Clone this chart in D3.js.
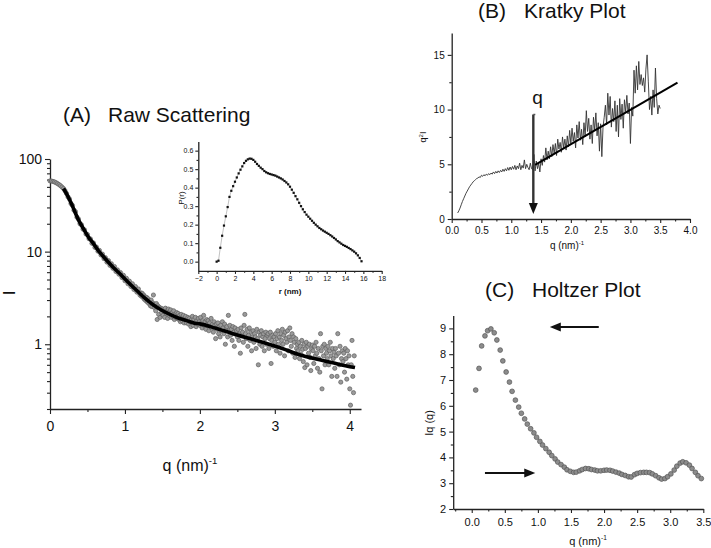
<!DOCTYPE html>
<html><head><meta charset="utf-8">
<script src="https://cdn.jsdelivr.net/npm/d3@7"></script>
<style>
body{margin:0;background:#fff;}
svg text{font-family:"Liberation Sans",Arial,Helvetica,sans-serif;fill:#111;}
</style></head><body>
<svg id="c" width="711" height="548"></svg>
<script>
// ---------- Panel A: raw scattering ----------
const scatterQ = [0.00,0.02,0.04,0.06,0.08,0.10,0.12,0.14,0.16,0.18,0.20,0.22,0.24,0.26,0.28,0.30,0.32,0.34,0.36,0.38,0.40,0.42,0.44,0.46,0.48,0.50,0.52,0.54,0.56,0.58,0.60,0.62,0.64,0.66,0.68,0.70,0.72,0.74,0.76,0.78,0.80,0.82,0.84,0.86,0.88,0.90,0.92,0.94,0.96,0.98,1.00,1.02,1.04,1.06,1.08,1.10,1.12,1.14,1.16,1.18,1.20,
1.21,1.22,1.23,1.24,1.25,1.26,1.27,1.28,1.29,1.30,1.31,1.32,1.33,1.34,1.35,1.36,1.37,1.38,1.39,1.40,1.41,1.42,1.43,1.44,1.45,1.46,1.47,1.48,1.49,1.50,1.51,1.52,1.53,1.54,1.55,1.56,1.57,1.58,1.59,1.60,1.61,1.62,1.63,1.64,1.65,1.66,1.67,1.68,1.69,1.70,1.71,1.72,1.73,1.74,1.75,1.76,1.77,1.78,1.79,1.80,1.81,1.82,1.83,1.84,1.85,1.86,1.87,1.88,1.89,1.90,1.91,1.92,1.93,1.94,1.95,1.96,1.97,1.98,1.99,2.00,
2.01,2.02,2.03,2.04,2.05,2.06,2.07,2.08,2.09,2.10,2.11,2.12,2.13,2.14,2.15,2.16,2.17,2.18,2.19,2.20,2.21,2.22,2.23,2.24,2.25,2.26,2.27,2.28,2.29,2.30,2.31,2.32,2.33,2.34,2.35,2.36,2.37,2.38,2.39,2.40,2.41,2.42,2.43,2.44,2.45,2.46,2.47,2.48,2.49,2.50,2.51,2.52,2.53,2.54,2.55,2.56,2.57,2.58,2.59,2.60,2.61,2.62,2.63,2.64,2.65,2.66,2.67,2.68,2.69,2.70,2.71,2.72,2.73,2.74,2.75,2.76,2.77,2.78,2.79,2.80,2.81,2.82,2.83,2.84,2.85,2.86,2.87,2.88,2.89,2.90,2.91,2.92,2.93,2.94,2.95,2.96,2.97,2.98,2.99,3.00,
3.01,3.02,3.03,3.04,3.05,3.06,3.07,3.08,3.09,3.10,3.11,3.12,3.13,3.14,3.15,3.16,3.17,3.18,3.19,3.20,3.21,3.22,3.23,3.24,3.25,3.26,3.27,3.28,3.29,3.30,3.31,3.32,3.33,3.34,3.35,3.36,3.37,3.38,3.39,3.40,3.41,3.42,3.43,3.44,3.45,3.46,3.47,3.48,3.49,3.50,3.51,3.52,3.53,3.54,3.55,3.56,3.57,3.58,3.59,3.60,3.61,3.62,3.63,3.64,3.65,3.66,3.67,3.68,3.69,3.70,3.71,3.72,3.73,3.74,3.75,3.76,3.77,3.78,3.79,3.80,3.81,3.82,3.83,3.84,3.85,3.86,3.87,3.88,3.89,3.90,3.91,3.92,3.93,3.94,3.95,3.96,3.97,3.98,3.99,4.00,4.01,4.02,4.03,4.04,4.05,4.06];
const scatterI = [58,57.8,57.2,56.5,55.5,54.3,53,51.5,49.8,48,45.5,42.5,39,37,33,31.5,28,27,23.5,22.5,20,19.5,17.5,17.2,15.5,15.3,13.8,13.7,12.3,12.4,11.1,11.2,10.1,10.3,9.2,9.4,8.4,8.6,7.7,8.0,7.1,7.4,6.6,6.9,6.1,6.35,5.7,5.95,5.25,5.55,4.85,5.15,4.5,4.8,4.2,4.5,3.9,4.2,3.65,3.95,3.4,
3.6,3.3,3.55,3.2,3.4,3.05,3.25,2.95,3.2,2.85,
3.1,2.75,2.95,2.6,3.0,2.55,2.8,3.4,2.5,2.7,
2.3,2.75,1.85,2.6,2.1,2.5,1.95,2.45,2.2,2.4,
2.05,2.35,1.95,2.45,2.15,2.3,1.9,2.4,2.05,2.25,
2.35,1.95,2.2,2.0,2.3,1.85,2.1,1.95,2.2,1.9,
2.15,1.85,2.05,1.75,2.1,1.8,1.95,2.05,1.7,1.9,
2.0,1.7,1.85,1.95,1.65,1.9,1.75,1.55,1.85,2.0,
1.6,1.85,1.7,1.95,1.55,1.8,1.65,1.9,1.75,1.6,
1.95,1.7,1.5,1.8,2.05,1.6,1.75,1.45,1.85,1.65,
1.8,1.4,1.7,1.55,1.9,1.5,1.65,1.35,1.75,1.6,
1.15,1.65,1.45,1.7,1.3,1.55,1.2,1.6,1.4,1.75,
1.5,1.3,1.65,1.0,1.45,1.55,1.2,2.05,1.4,1.6,
1.25,1.45,1.1,1.55,1.35,0.95,1.5,1.3,1.4,1.2,
1.45,1.1,1.3,0.8,1.5,1.25,1.35,1.05,1.6,2.1,
1.3,1.15,1.45,0.95,1.25,1.5,1.1,1.35,0.85,1.2,
1.4,1.05,1.3,1.2,0.9,1.45,1.15,0.6,1.35,1.0,
1.25,1.4,0.95,1.2,1.3,0.85,1.15,1.35,1.0,1.25,
1.3,0.9,1.15,1.35,0.62,1.1,1.25,0.95,1.2,1.05,
1.3,0.85,1.15,1.4,1.0,1.2,0.8,1.3,1.1,1.45,
1.0,1.25,0.75,1.35,1.15,1.05,1.4,0.85,1.2,1.5,
1.1,0.95,1.3,0.8,1.2,1.05,0.72,1.15,0.9,1.0,
0.85,1.05,0.7,0.95,0.78,1.1,0.88,0.65,1.0,0.56,
0.9,1.05,0.6,0.95,0.8,1.0,0.72,0.52,0.88,0.98,
0.85,0.62,0.95,0.75,1.05,0.8,0.55,0.9,0.7,0.5,
1.3,0.85,0.33,0.95,0.75,1.0,0.6,0.9,0.8,0.7,
0.95,0.6,0.85,1.05,0.75,0.45,0.9,0.7,0.82,0.55,
0.9,0.75,0.45,1.3,0.8,0.6,0.95,0.39,0.7,0.85,
0.65,0.8,0.5,0.9,0.7,0.42,0.85,0.6,0.75,0.33,
0.22,0.6,1.1,0.45,0.3,0.75];
const fitQ = [0.18,0.25,0.30,0.38,0.45,0.51,0.58,0.64,0.72,0.82,0.92,1.04,1.15,1.27,1.38,1.49,1.60,1.71,1.82,1.93,2.00,2.20,2.44,2.70,2.89,3.10,3.33,3.60,3.85,4.07];
const fitI = [48,38,31,22,17.5,14.5,12.2,10.4,8.7,7.1,5.9,4.7,3.85,3.12,2.65,2.33,2.10,1.92,1.80,1.69,1.66,1.50,1.30,1.13,1.02,0.90,0.77,0.68,0.61,0.56];
const aXTicks = [0,1,2,3,4];
const aXMinor = [0.5,1.5,2.5,3.5];
const aYTicks = [1,10,100];
const aYMinor = [0.2,0.3,0.4,0.5,0.6,0.7,0.8,0.9,2,3,4,5,6,7,8,9,20,30,40,50,60,70,80,90];

// ---------- Inset: P(r) ----------
const prR = [0,0.2,0.4,0.6,0.8,1.0,1.2,1.4,1.6,1.8,2.0,2.2,2.4,2.6,2.8,3.0,3.2,3.4,3.6,3.8,4.0,4.2,4.4,4.6,4.8,5.0,5.2,5.4,5.6,5.8,6.0,6.2,6.4,6.6,6.8,7.0,7.2,7.4,7.6,7.8,8.0,8.2,8.4,8.6,8.8,9.0,9.2,9.4,9.6,9.8,10.0,10.2,10.4,10.6,10.8,11.0,11.2,11.4,11.6,11.8,12.0,12.2,12.4,12.6,12.8,13.0,13.2,13.4,13.6,13.8,14.0,14.2,14.4,14.6,14.8,15.0,15.2,15.4,15.6,15.8];
const prP = [0.00,0.005,0.075,0.14,0.195,0.245,0.295,0.35,0.383,0.408,0.432,0.455,0.477,0.497,0.515,0.533,0.545,0.553,0.557,0.556,0.550,0.540,0.528,0.518,0.508,0.500,0.490,0.483,0.478,0.474,0.471,0.468,0.465,0.460,0.455,0.450,0.444,0.436,0.428,0.418,0.405,0.389,0.372,0.354,0.337,0.318,0.300,0.283,0.268,0.254,0.243,0.232,0.221,0.210,0.200,0.191,0.182,0.175,0.168,0.162,0.156,0.150,0.143,0.136,0.128,0.120,0.111,0.104,0.097,0.090,0.085,0.080,0.074,0.068,0.061,0.054,0.045,0.034,0.020,0.002];
const prXTicks = [-2,0,2,4,6,8,10,12,14,16,18];
const prXMinor = [-1,1,3,5,7,9,11,13,15,17];
const prYTicks = [0,0.1,0.2,0.3,0.4,0.5,0.6];
const prYMinor = [0.05,0.15,0.25,0.35,0.45,0.55];

// ---------- Panel B: Kratky ----------
const kratkyQ = [0.10,0.12,0.14,0.16,0.18,0.20,0.22,0.24,0.26,0.28,0.30,0.32,0.34,0.36,0.38,0.40,0.42,0.44,0.46,0.48,0.50,0.52,0.54,0.56,0.58,0.60,0.62,0.64,0.66,0.68,0.70,0.72,0.74,0.76,0.78,0.80,0.82,0.84,0.86,0.88,0.90,0.92,0.94,0.96,0.98,1.00,1.02,1.04,1.06,1.08,1.10,1.12,1.14,1.16,1.18,1.20,1.22,1.24,1.26,1.28,1.30,1.32,1.34,1.36,1.38,1.40,1.42,1.44,1.46,1.48,1.50,1.52,1.54,1.56,1.58,1.60,1.62,1.64,1.66,1.68,1.70,1.72,1.74,1.76,1.78,1.80,1.82,1.84,1.86,1.88,1.90,1.92,1.94,1.96,1.98,2.00,2.02,2.04,2.06,2.08,2.10,2.12,2.14,2.16,2.18,2.20,2.22,2.24,2.26,2.28,2.30,2.32,2.34,2.36,2.38,2.40,2.42,2.44,2.46,2.48,2.50,2.52,2.54,2.56,2.58,2.60,2.62,2.64,2.66,2.68,2.70,2.72,2.74,2.76,2.78,2.80,2.82,2.84,2.86,2.88,2.90,2.92,2.94,2.96,2.98,3.00,3.02,3.04,3.06,3.08,3.10,3.12,3.14,3.16,3.18,3.20,3.22,3.24,3.26,3.28,3.30,3.32,3.34,3.36,3.38,3.40,3.42,3.44,3.46,3.48,3.50];
const kratkyI = [0.55,0.75,1.0,1.3,1.6,1.85,2.1,2.35,2.55,2.75,2.95,3.1,3.25,3.4,3.5,3.6,3.7,3.75,3.85,3.8,
4.0,3.9,4.05,3.95,4.1,4.0,4.15,4.05,4.2,4.1,4.3,4.15,4.35,4.2,4.4,4.25,4.45,4.3,4.55,4.35,
4.6,4.4,4.7,4.45,4.75,4.5,4.8,4.55,4.9,4.5,4.85,4.6,5.1,4.5,4.9,4.65,5.4,4.6,5.0,4.7,
4.5,5.1,4.6,4.5,5.9,4.4,5.3,4.6,5.1,4.3,5.5,4.9,5.8,5.2,6.5,5.4,6.2,5.5,6.6,5.7,
6.8,6.0,6.9,5.8,7.3,6.4,7.0,6.1,7.5,6.5,7.3,6.3,7.6,6.6,8.1,6.9,8.3,7.1,7.9,6.5,
8.6,7.4,8.9,7.2,8.2,6.8,8.8,7.5,9.9,8.0,9.2,7.3,8.6,6.9,9.3,8.1,9.7,7.6,8.8,6.2,
8.7,5.7,8.4,9.3,10.4,8.6,11.5,9.5,11.2,8.4,10.1,8.9,10.8,8.0,10.4,7.5,11.0,9.1,10.5,8.3,
10.9,9.8,11.3,9.6,10.6,6.9,10.2,9.4,13.6,11.5,14.0,11.8,14.4,12.3,13.2,12.2,12.9,11.6,13.7,15.0,
12.6,10.0,11.2,9.5,11.8,10.2,13.8,11.0,9.6,10.4,10.1];
const kratkyFitQ = [1.40,3.79];
const kratkyFitI = [4.94,12.46];
const bXTicks = [0,0.5,1.0,1.5,2.0,2.5,3.0,3.5,4.0];
const bXMinor = [0.25,0.75,1.25,1.75,2.25,2.75,3.25,3.75];
const bYTicks = [0,5,10,15];
const bYMinor = [2.5,7.5,12.5];

// ---------- Panel C: Holtzer ----------
const holtzerQ = [0.06,0.11,0.15,0.20,0.24,0.29,0.34,0.38,0.43,0.47,0.52,0.57,0.61,0.66,0.71,0.75,0.80,0.84,0.89,0.94,0.98,1.03,1.07,1.12,1.17,1.21,1.26,1.30,1.35,1.40,1.44,1.49,1.54,1.58,1.63,1.67,1.72,1.77,1.81,1.86,1.90,1.95,2.00,2.04,2.09,2.13,2.18,2.23,2.27,2.32,2.37,2.41,2.46,2.50,2.55,2.60,2.64,2.69,2.73,2.78,2.83,2.87,2.92,2.96,3.01,3.06,3.10,3.15,3.19,3.24,3.29,3.33,3.38,3.42,3.47];
const holtzerI = [6.61,7.45,8.32,8.71,8.91,8.98,8.83,8.55,8.16,7.74,7.31,6.92,6.56,6.22,5.95,5.71,5.49,5.29,5.11,4.95,4.78,4.62,4.48,4.34,4.20,4.07,3.94,3.82,3.72,3.62,3.52,3.46,3.42,3.43,3.48,3.53,3.57,3.56,3.53,3.51,3.48,3.48,3.50,3.51,3.50,3.47,3.43,3.39,3.34,3.30,3.25,3.24,3.33,3.38,3.41,3.42,3.42,3.41,3.36,3.29,3.21,3.16,3.18,3.25,3.36,3.51,3.66,3.78,3.83,3.79,3.70,3.57,3.42,3.29,3.18];
const cXTicks = [0,0.5,1.0,1.5,2.0,2.5,3.0,3.5];
const cXMinor = [-0.25,0.25,0.75,1.25,1.75,2.25,2.75,3.25];
const cYTicks = [2,3,4,5,6,7,8,9];
const cYMinor = [2.5,3.5,4.5,5.5,6.5,7.5,8.5];

// ================= drawing =================
const svg = d3.select("#c");
const AX = "#222";

function styleAxis(g, fs){
  g.selectAll("path.domain").attr("stroke", AX).attr("stroke-width", 1.3);
  g.selectAll(".tick line").attr("stroke", AX).attr("stroke-width", 1.1);
  g.selectAll("text").style("font-size", fs + "px").attr("fill", "#111")
    .style("font-family", "'Liberation Sans', Arial, sans-serif");
}
function bottomAxis(scale, y, ticks, minor, fmt, fs, size, pad){
  const g = svg.append("g").attr("transform", `translate(0,${y})`);
  g.call(d3.axisBottom(scale).tickValues(ticks).tickFormat(fmt).tickSize(size).tickSizeOuter(0).tickPadding(pad));
  styleAxis(g, fs);
  const m = svg.append("g").attr("transform", `translate(0,${y})`);
  m.call(d3.axisBottom(scale).tickValues(minor).tickFormat("").tickSize(size * 0.6).tickSizeOuter(0));
  m.select("path.domain").remove();
  styleAxis(m, fs);
  return g;
}
function leftAxis(scale, x, ticks, minor, fmt, fs, size, pad){
  const g = svg.append("g").attr("transform", `translate(${x},0)`);
  g.call(d3.axisLeft(scale).tickValues(ticks).tickFormat(fmt).tickSize(size).tickSizeOuter(0).tickPadding(pad));
  styleAxis(g, fs);
  const m = svg.append("g").attr("transform", `translate(${x},0)`);
  m.call(d3.axisLeft(scale).tickValues(minor).tickFormat("").tickSize(size * 0.6).tickSizeOuter(0));
  m.select("path.domain").remove();
  styleAxis(m, fs);
  return g;
}
function qLabel(x, y, fs){
  const t = svg.append("text").attr("x", x).attr("y", y).attr("text-anchor", "middle")
    .style("font-size", fs + "px");
  t.append("tspan").text("q (nm)");
  t.append("tspan").attr("dy", -fs * 0.42).style("font-size", (fs * 0.6) + "px").text("-1");
}
function title(x1, txt1, x2, txt2, y){
  svg.append("text").attr("x", x1).attr("y", y).style("font-size", "21px").text(txt1);
  svg.append("text").attr("x", x2).attr("y", y).style("font-size", "21px").text(txt2);
}
function arrowHead(x, y, dir, len, half){
  let pts;
  if (dir === "left") pts = [[x, y], [x + len, y - half], [x + len, y + half]];
  else if (dir === "right") pts = [[x, y], [x - len, y - half], [x - len, y + half]];
  else pts = [[x, y], [x - half, y - len], [x + half, y - len]];
  svg.append("path").attr("d", "M" + pts.map(p => p.join(",")).join("L") + "Z").attr("fill", "#111");
}

// ----- Panel A -----
const xA = d3.scaleLinear().domain([0, 4.15]).range([50, 361]);
const yA = d3.scaleLog().domain([0.2, 100]).range([409, 159]);
title(63, "(A)", 108, "Raw Scattering", 122);
bottomAxis(xA, 409, aXTicks, aXMinor, d3.format("d"), 14, 5, 7);
leftAxis(yA, 50, aYTicks, aYMinor, d3.format("d"), 14, 5, 3);
svg.append("text").attr("transform", "translate(15,293) rotate(-90)").attr("text-anchor", "middle")
  .style("font-size", "17px").text("I");
qLabel(190, 471, 16);

const scatter = d3.zip(scatterQ, scatterI);
svg.append("g").selectAll("circle").data(scatter).join("circle")
  .attr("cx", d => xA(d[0])).attr("cy", d => yA(d[1])).attr("r", 2.1)
  .attr("fill", "#9a9a9a").attr("stroke", "#5e5e5e").attr("stroke-width", 0.7);
svg.append("path").datum(d3.zip(fitQ, fitI))
  .attr("d", d3.line().x(d => xA(d[0])).y(d => yA(d[1])).curve(d3.curveMonotoneX))
  .attr("fill", "none").attr("stroke", "#000").attr("stroke-width", 3.6);

// ----- Inset P(r) -----
const xP = d3.scaleLinear().domain([-2, 18]).range([198.3, 381.7]);
const yP = d3.scaleLinear().domain([-0.05, 0.65]).range([270.9, 141.4]);
bottomAxis(xP, 270.9, prXTicks, prXMinor, d3.format("d"), 7, 3, 2);
leftAxis(yP, 198.3, prYTicks, prYMinor, d3.format(".1f"), 7, 3, 2);
svg.append("text").attr("x", 290).attr("y", 294).attr("text-anchor", "middle")
  .style("font-size", "8px").style("font-weight", "bold").text("r (nm)");
svg.append("text").attr("transform", "translate(184,198) rotate(-90)").attr("text-anchor", "middle")
  .style("font-size", "8px").text("P(r)");
const prData = d3.zip(prR, prP);
svg.append("path").datum(prData)
  .attr("d", d3.line().x(d => xP(d[0])).y(d => yP(d[1])))
  .attr("fill", "none").attr("stroke", "#999").attr("stroke-width", 0.6);
svg.append("g").selectAll("rect").data(prData).join("rect")
  .attr("x", d => xP(d[0]) - 1.1).attr("y", d => yP(d[1]) - 1.1).attr("width", 2.2).attr("height", 2.2)
  .attr("fill", "#111");

// ----- Panel B -----
const xB = d3.scaleLinear().domain([0, 4]).range([451.7, 690]);
const yB = d3.scaleLinear().domain([0, 17]).range([219, 33]);
title(478, "(B)", 524, "Kratky Plot", 18);
bottomAxis(xB, 219, bXTicks, bXMinor, d3.format(".1f"), 10, 4, 4);
leftAxis(yB, 451.7, bYTicks, bYMinor, d3.format("d"), 10, 4, 3);
{
  const t = svg.append("text").attr("transform", "translate(426,137) rotate(-90)").attr("text-anchor", "middle")
    .style("font-size", "9px");
  t.append("tspan").text("q");
  t.append("tspan").attr("dy", -3).style("font-size", "6px").text("2");
  t.append("tspan").attr("dy", 3).text("I");
}
qLabel(567, 249, 10);
svg.append("path").datum(d3.zip(kratkyQ, kratkyI))
  .attr("d", d3.line().x(d => xB(d[0])).y(d => yB(d[1])))
  .attr("fill", "none").attr("stroke", "#333").attr("stroke-width", 0.9);
svg.append("path").datum(d3.zip(kratkyFitQ, kratkyFitI))
  .attr("d", d3.line().x(d => xB(d[0])).y(d => yB(d[1])))
  .attr("fill", "none").attr("stroke", "#000").attr("stroke-width", 2);
// q marker arrow
svg.append("line").attr("x1", xB(1.37)).attr("x2", xB(1.37)).attr("y1", yB(9.55)).attr("y2", yB(1.4))
  .attr("stroke", "#333").attr("stroke-width", 2.4);
svg.append("line").attr("x1", xB(1.37)).attr("x2", xB(1.37) + 2).attr("y1", yB(9.55)).attr("y2", yB(9.55))
  .attr("stroke", "#555").attr("stroke-width", 1.5);
arrowHead(xB(1.37), yB(0.45), "down", 11, 4.5);
svg.append("text").attr("x", xB(1.37) - 1).attr("y", 104).style("font-size", "19px").text("q");

// ----- Panel C -----
const xC = d3.scaleLinear().domain([-0.28, 3.5]).range([453.2, 703.3]);
const yC = d3.scaleLinear().domain([2, 9.5]).range([509, 315.5]);
title(485, "(C)", 532, "Holtzer Plot", 297);
bottomAxis(xC, 509, cXTicks, cXMinor, d3.format(".1f"), 11, 4, 5);
leftAxis(yC, 453.2, cYTicks, cYMinor, d3.format("d"), 11, 4, 3);
svg.append("text").attr("transform", "translate(433,423) rotate(-90)").attr("text-anchor", "middle")
  .style("font-size", "11px").text("Iq (q)");
qLabel(588, 545, 11);
svg.append("g").selectAll("circle").data(d3.zip(holtzerQ, holtzerI)).join("circle")
  .attr("cx", d => xC(d[0])).attr("cy", d => yC(d[1])).attr("r", 2.4)
  .attr("fill", "#8c8c8c").attr("stroke", "#555").attr("stroke-width", 0.7);
// arrows
svg.append("line").attr("x1", xC(1.92)).attr("x2", xC(1.32)).attr("y1", yC(9.05)).attr("y2", yC(9.05))
  .attr("stroke", "#111").attr("stroke-width", 2);
arrowHead(xC(1.18), yC(9.05), "left", 11, 4.5);
svg.append("line").attr("x1", xC(0.20)).attr("x2", xC(0.82)).attr("y1", yC(3.40)).attr("y2", yC(3.40))
  .attr("stroke", "#111").attr("stroke-width", 2);
arrowHead(xC(0.96), yC(3.40), "right", 11, 4.5);
</script>
</body></html>
